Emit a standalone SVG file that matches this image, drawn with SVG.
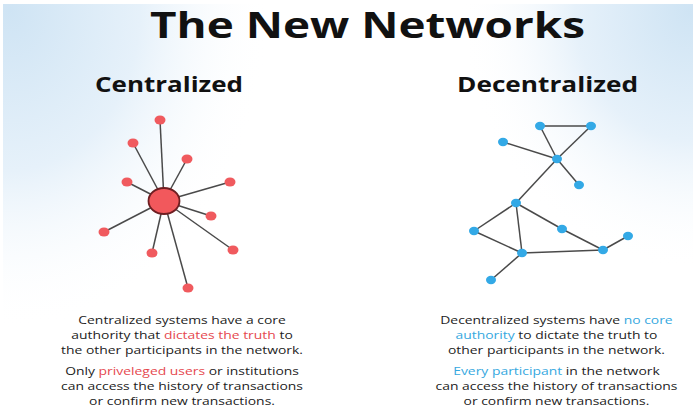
<svg xmlns="http://www.w3.org/2000/svg" width="693" height="419" viewBox="0 0 693 419">
<defs>
<radialGradient id="gl" cx="0" cy="0" r="1" gradientUnits="userSpaceOnUse" gradientTransform="translate(10 10) scale(260 320)">
<stop offset="0" stop-color="#cfe4f4"/><stop offset="0.5" stop-color="#e6f1fa"/><stop offset="1" stop-color="#ffffff" stop-opacity="0"/>
</radialGradient>
<radialGradient id="gr" cx="0" cy="0" r="1" gradientUnits="userSpaceOnUse" gradientTransform="translate(690 10) scale(230 260)">
<stop offset="0" stop-color="#cfe4f4"/><stop offset="0.5" stop-color="#e6f1fa"/><stop offset="1" stop-color="#ffffff" stop-opacity="0"/>
</radialGradient>
<style>
.title{font-family:"Open Sans","Liberation Sans",sans-serif;font-weight:bold;fill:#111}
.body{font-family:"Open Sans","Liberation Sans",sans-serif;font-size:11px;fill:#1c1c1c;text-anchor:middle}
.red{fill:#e5474e}
.blue{fill:#35a8e0}
.edge{stroke:#4a4a4a;stroke-width:1.5;fill:none}
.rn{fill:#f05a5e}
.bn{fill:#33a9e6}
</style>
</defs>
<rect width="693" height="419" fill="#ffffff"/>
<rect x="3" y="4" width="690" height="415" fill="url(#gl)"/>
<rect x="3" y="4" width="690" height="415" fill="url(#gr)"/>

<text class="title" x="150" y="38" font-size="36" textLength="435" lengthAdjust="spacingAndGlyphs">The New Networks</text>
<text class="title" x="95" y="92" font-size="22" textLength="148" lengthAdjust="spacingAndGlyphs">Centralized</text>
<text class="title" x="457" y="92" font-size="22" textLength="181" lengthAdjust="spacingAndGlyphs">Decentralized</text>

<g id="connectors">
<g id="central-edges">
<line class="edge" x1="164" y1="201" x2="160" y2="120"/>
<line class="edge" x1="164" y1="201" x2="133" y2="143"/>
<line class="edge" x1="164" y1="201" x2="187" y2="159"/>
<line class="edge" x1="164" y1="201" x2="127" y2="182"/>
<line class="edge" x1="164" y1="201" x2="230" y2="182"/>
<line class="edge" x1="164" y1="201" x2="211" y2="216"/>
<line class="edge" x1="164" y1="201" x2="104" y2="232"/>
<line class="edge" x1="164" y1="201" x2="233" y2="250"/>
<line class="edge" x1="164" y1="201" x2="152" y2="253"/>
<line class="edge" x1="164" y1="201" x2="188" y2="288"/>
</g>
<g id="decentral-edges">
<line class="edge" x1="540" y1="126" x2="591" y2="126"/>
<line class="edge" x1="540" y1="126" x2="557" y2="159"/>
<line class="edge" x1="591" y1="126" x2="557" y2="159"/>
<line class="edge" x1="503" y1="142" x2="557" y2="159"/>
<line class="edge" x1="557" y1="159" x2="579" y2="185"/>
<line class="edge" x1="557" y1="159" x2="516" y2="203"/>
<line class="edge" x1="516" y1="203" x2="474" y2="231"/>
<line class="edge" x1="516" y1="203" x2="522" y2="253"/>
<line class="edge" x1="516" y1="203" x2="562" y2="229"/>
<line class="edge" x1="562" y1="229" x2="603" y2="250"/>
<line class="edge" x1="474" y1="231" x2="522" y2="253"/>
<line class="edge" x1="522" y1="253" x2="603" y2="250"/>
<line class="edge" x1="603" y1="250" x2="628" y2="236"/>
<line class="edge" x1="522" y1="253" x2="491" y2="280"/>
</g>
</g>

<g id="central-hub"><ellipse cx="164" cy="201" rx="15.5" ry="13" fill="#f2585c" stroke="#6e1e22" stroke-width="1.8"/></g>
<g id="c1"><ellipse class="rn" cx="160" cy="120" rx="5.5" ry="4.5"/></g>
<g id="c2"><ellipse class="rn" cx="133" cy="143" rx="5.5" ry="4.5"/></g>
<g id="c3"><ellipse class="rn" cx="187" cy="159" rx="5.5" ry="4.5"/></g>
<g id="c4"><ellipse class="rn" cx="127" cy="182" rx="5.5" ry="4.5"/></g>
<g id="c5"><ellipse class="rn" cx="230" cy="182" rx="5.5" ry="4.5"/></g>
<g id="c6"><ellipse class="rn" cx="211" cy="216" rx="5.5" ry="4.5"/></g>
<g id="c7"><ellipse class="rn" cx="104" cy="232" rx="5.5" ry="4.5"/></g>
<g id="c8"><ellipse class="rn" cx="233" cy="250" rx="5.5" ry="4.5"/></g>
<g id="c9"><ellipse class="rn" cx="152" cy="253" rx="5.5" ry="4.5"/></g>
<g id="c10"><ellipse class="rn" cx="188" cy="288" rx="5.5" ry="4.5"/></g>

<g id="d1"><ellipse class="bn" cx="540" cy="126" rx="5" ry="4.2"/></g>
<g id="d2"><ellipse class="bn" cx="591" cy="126" rx="5" ry="4.2"/></g>
<g id="d3"><ellipse class="bn" cx="503" cy="142" rx="5" ry="4.2"/></g>
<g id="d4"><ellipse class="bn" cx="557" cy="159" rx="5" ry="4.2"/></g>
<g id="d5"><ellipse class="bn" cx="579" cy="185" rx="5" ry="4.2"/></g>
<g id="d6"><ellipse class="bn" cx="516" cy="203" rx="5" ry="4.2"/></g>
<g id="d7"><ellipse class="bn" cx="474" cy="231" rx="5" ry="4.2"/></g>
<g id="d8"><ellipse class="bn" cx="562" cy="229" rx="5" ry="4.2"/></g>
<g id="d9"><ellipse class="bn" cx="628" cy="236" rx="5" ry="4.2"/></g>
<g id="d10"><ellipse class="bn" cx="522" cy="253" rx="5" ry="4.2"/></g>
<g id="d11"><ellipse class="bn" cx="603" cy="250" rx="5" ry="4.2"/></g>
<g id="d12"><ellipse class="bn" cx="491" cy="280" rx="5" ry="4.2"/></g>

<g id="text-left" transform="scale(1.265 1)">
<text class="body" x="143.9" y="324">Centralized systems have a core</text>
<text class="body" x="143.9" y="339">authority that <tspan class="red">dictates the truth</tspan> to</text>
<text class="body" x="143.9" y="354">the other participants in the network.</text>
<text class="body" x="143.9" y="375">Only <tspan class="red">priveleged users</tspan> or institutions</text>
<text class="body" x="143.9" y="390">can access the history of transactions</text>
<text class="body" x="143.9" y="405">or confirm new transactions.</text>
</g>
<g id="text-right" transform="scale(1.265 1)">
<text class="body" x="439.9" y="324">Decentralized systems have <tspan class="blue">no core</tspan></text>
<text class="body" x="439.9" y="339"><tspan class="blue">authority</tspan> to dictate the truth to</text>
<text class="body" x="439.9" y="354">other participants in the network.</text>
<text class="body" x="439.9" y="375"><tspan class="blue">Every participant</tspan> in the network</text>
<text class="body" x="439.9" y="390">can access the history of transactions</text>
<text class="body" x="439.9" y="405">or confirm new transactions.</text>
</g>
</svg>
